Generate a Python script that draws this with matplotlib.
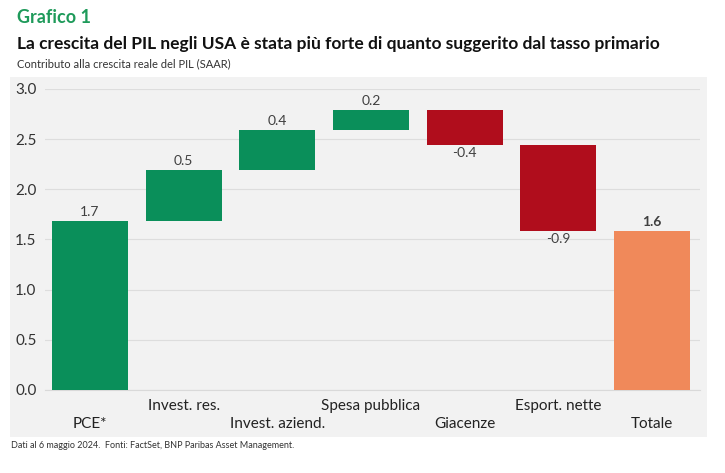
import matplotlib.pyplot as plt
from matplotlib.patches import Rectangle

categories = ['PCE*', 'Invest. res.', 'Invest. aziend.', 'Spesa pubblica',
              'Giacenze', 'Esport. nette', 'Totale']
contrib = [1.68, 0.51, 0.40, 0.20, -0.35, -0.86]
labels = ['1.7', '0.5', '0.4', '0.2', '-0.4', '-0.9', '1.6']

green = '#0a8f5a'
red = '#b00d1c'
orange = '#f0895a'
bg = '#f2f2f2'

plt.rcParams['font.family'] = ['Lato', 'DejaVu Sans']

fig = plt.figure(figsize=(7.25, 4.73), dpi=100)
fig.patches.append(Rectangle((0.0138, 0.076), 0.961, 0.761, transform=fig.transFigure,
                             facecolor=bg, edgecolor='none', zorder=-5))

ax = fig.add_axes([0.062, 0.1755, 0.9034, 0.6365])
ax.set_facecolor(bg)
ax.patch.set_alpha(0)

# waterfall
bottoms = []
heights = []
colors = []
run = 0.0
for v in contrib:
    if v >= 0:
        bottoms.append(run)
    else:
        bottoms.append(run + v)
    heights.append(abs(v))
    colors.append(green if v >= 0 else red)
    run += v
bottoms.append(0)
heights.append(run)
colors.append(orange)

x = list(range(len(categories)))
ax.bar(x, heights, bottom=bottoms, width=0.81, color=colors, zorder=3)

for i in range(len(categories)):
    if i < len(contrib) and contrib[i] < 0:
        ax.text(i, bottoms[i] - 0.02, labels[i], ha='center', va='top',
                fontsize=10, color='#404040')
    else:
        ax.text(i, bottoms[i] + heights[i] + 0.03, labels[i], ha='center', va='bottom',
                fontsize=10, color='#404040',
                fontweight='bold' if i == len(categories) - 1 else 'normal')

ax.set_xlim(-0.48, 6.51)
ax.set_ylim(0, 3.0)
ax.set_yticks([0.0, 0.5, 1.0, 1.5, 2.0, 2.5, 3.0])
ax.set_yticklabels(['0.0', '0.5', '1.0', '1.5', '2.0', '2.5', '3.0'])
ax.tick_params(axis='y', length=0, labelsize=11, labelcolor='#333333', pad=6)
ax.grid(axis='y', color='#dddddd', linewidth=0.8, zorder=1)
for s in ax.spines.values():
    s.set_visible(False)
ax.spines['bottom'].set_visible(True)
ax.spines['bottom'].set_color('#d9d9d9')

ax.set_xticks(x)
ax.set_xticklabels([])
ax.tick_params(axis='x', length=0)
for i, c in enumerate(categories):
    yy = -0.16 if i % 2 == 1 else -0.335
    ax.text(i, yy, c, ha='center', va='center', fontsize=11, color='#222222')

fig.text(0.023, 0.962, 'Grafico 1', fontsize=13, fontweight='bold', color='#1e9a5a',
         va='center')
fig.text(0.023, 0.907, 'La crescita del PIL negli USA è stata più forte di quanto suggerito dal tasso primario',
         fontsize=12.5, fontweight='bold', color='#111111', va='center')
fig.text(0.023, 0.866, 'Contributo alla crescita reale del PIL (SAAR)', fontsize=8,
         color='#333333', va='center')
fig.text(0.015, 0.058, 'Dati al 6 maggio 2024.  Fonti: FactSet, BNP Paribas Asset Management.',
         fontsize=6.5, color='#333333', va='center')

fig.savefig('out.png', dpi=100)
